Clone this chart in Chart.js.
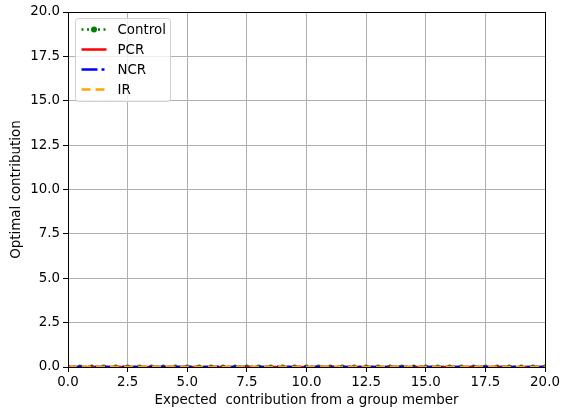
<!DOCTYPE html>
<html>
<head>
<meta charset="utf-8">
<script src="https://cdn.jsdelivr.net/npm/chart.js@4/dist/chart.umd.min.js"></script>
<style>
  html, body { margin: 0; padding: 0; background: #fff; }
  #wrap { width: 562px; height: 414px; position: relative; }
</style>
</head>
<body>
<div id="wrap"><canvas id="c" width="562" height="414"></canvas></div>
<script>
// ---- data ----
const xValues = [0, 0.5, 1, 1.5, 2, 2.5, 3, 3.5, 4, 4.5, 5, 5.5, 6, 6.5, 7, 7.5, 8, 8.5, 9, 9.5, 10,
                 10.5, 11, 11.5, 12, 12.5, 13, 13.5, 14, 14.5, 15, 15.5, 16, 16.5, 17, 17.5, 18, 18.5, 19, 19.5, 20];
const controlValues = [0,0,0,0,0,0,0,0,0,0,0,0,0,0,0,0,0,0,0,0,0,0,0,0,0,0,0,0,0,0,0,0,0,0,0,0,0,0,0,0,0];
const pcrValues     = [0,0,0,0,0,0,0,0,0,0,0,0,0,0,0,0,0,0,0,0,0,0,0,0,0,0,0,0,0,0,0,0,0,0,0,0,0,0,0,0,0];
const ncrValues     = [0,0,0,0,0,0,0,0,0,0,0,0,0,0,0,0,0,0,0,0,0,0,0,0,0,0,0,0,0,0,0,0,0,0,0,0,0,0,0,0,0];
const irValues      = [0,0,0,0,0,0,0,0,0,0,0,0,0,0,0,0,0,0,0,0,0,0,0,0,0,0,0,0,0,0,0,0,0,0,0,0,0,0,0,0,0];
const seriesNames = ['Control', 'PCR', 'NCR', 'IR'];
const xTickValues = [0, 2.5, 5, 7.5, 10, 12.5, 15, 17.5, 20];
const yTickValues = [0, 2.5, 5, 7.5, 10, 12.5, 15, 17.5, 20];
const xTitle = 'Expected  contribution from a group member';
const yTitle = 'Optimal contribution';

const FONT = 'DejaVu Sans';
const FS = 13.4;
const pts = vals => vals.map((v, i) => ({ x: xValues[i], y: v }));

// black frame around the plot area (all four spines)
const spines = {
  id: 'spines',
  afterDatasetsDraw(chart) {
    const ctx = chart.ctx, ca = chart.chartArea;
    ctx.save();
    ctx.strokeStyle = '#000';
    ctx.lineWidth = 1;
    ctx.strokeRect(Math.round(ca.left) + 0.5, Math.round(ca.top) + 0.5,
                   Math.round(ca.right) - Math.round(ca.left), Math.round(ca.bottom) - Math.round(ca.top));
    ctx.restore();
  }
};

// custom legend drawn inside the plot area (upper left)
const insideLegend = {
  id: 'insideLegend',
  afterDraw(chart) {
    const ctx = chart.ctx;
    const ca = chart.chartArea;
    const x0 = ca.left + 7.5, y0 = ca.top + 6.5;
    const w = 95, h = 83, r = 3;
    ctx.save();
    ctx.beginPath();
    ctx.moveTo(x0 + r, y0);
    ctx.lineTo(x0 + w - r, y0); ctx.arcTo(x0 + w, y0, x0 + w, y0 + r, r);
    ctx.lineTo(x0 + w, y0 + h - r); ctx.arcTo(x0 + w, y0 + h, x0 + w - r, y0 + h, r);
    ctx.lineTo(x0 + r, y0 + h); ctx.arcTo(x0, y0 + h, x0, y0 + h - r, r);
    ctx.lineTo(x0, y0 + r); ctx.arcTo(x0, y0, x0 + r, y0, r);
    ctx.closePath();
    ctx.fillStyle = 'rgba(255,255,255,0.8)';
    ctx.fill();
    ctx.strokeStyle = '#d0d0d0';
    ctx.lineWidth = 1;
    ctx.stroke();
    chart.data.datasets.forEach((ds, i) => {
      const cy = y0 + 11 + i * 20;
      const lx1 = x0 + 6, lx2 = x0 + 31;
      ctx.beginPath();
      ctx.setLineDash(ds.borderDash || []);
      ctx.strokeStyle = ds.borderColor;
      ctx.lineWidth = ds.borderWidth;
      ctx.moveTo(lx1, cy); ctx.lineTo(lx2, cy);
      ctx.stroke();
      ctx.setLineDash([]);
      if (ds.pointRadius > 0) {
        ctx.beginPath();
        ctx.fillStyle = ds.borderColor;
        ctx.arc((lx1 + lx2) / 2, cy, 3, 0, Math.PI * 2);
        ctx.fill();
      }
      ctx.fillStyle = '#000';
      ctx.font = FS + 'px "' + FONT + '"';
      ctx.textBaseline = 'middle';
      ctx.textAlign = 'left';
      ctx.fillText(ds.label, x0 + 42, cy + 1);
    });
    ctx.restore();
  }
};

const ds = (label, vals, color, dash, radius, order) => ({
  label, data: pts(vals), borderColor: color, backgroundColor: color,
  borderWidth: 2.5, borderDash: dash, pointRadius: radius, pointHoverRadius: radius,
  pointBorderWidth: 0, tension: 0, fill: false, order
});

new Chart(document.getElementById('c'), {
  type: 'line',
  data: {
    datasets: [
      ds(seriesNames[0], controlValues, 'green', [2, 3.5], 2.5, 3),
      ds(seriesNames[1], pcrValues, 'red', [], 0, 2),
      ds(seriesNames[2], ncrValues, 'blue', [16, 4, 3, 4], 0, 1),
      ds(seriesNames[3], irValues, 'orange', [9, 5], 0, 0)
    ]
  },
  plugins: [spines, insideLegend],
  options: {
    responsive: false,
    animation: false,
    devicePixelRatio: 1,
    layout: { padding: { left: 0, right: 17, top: 12, bottom: 0 } },
    plugins: { legend: { display: false }, tooltip: { enabled: false } },
    scales: {
      x: {
        type: 'linear', min: 0, max: 20,
        afterBuildTicks: s => { s.ticks = xTickValues.map(v => ({ value: v })); },
        afterFit: s => { s.height = 47; },
        ticks: { callback: v => Number(v).toFixed(1), color: '#000', font: { family: FONT, size: FS }, padding: 2, maxRotation: 0 },
        grid: { color: '#b0b0b0', lineWidth: 1, tickLength: 5, tickColor: '#000', drawOnChartArea: true },
        border: { display: true, color: '#000', width: 1 },
        title: { display: true, text: xTitle, color: '#000', font: { family: FONT, size: FS }, padding: { top: 2, bottom: 5 } }
      },
      y: {
        type: 'linear', min: 0, max: 20,
        afterBuildTicks: s => { s.ticks = yTickValues.map(v => ({ value: v })); },
        afterFit: s => { s.width = 68; },
        ticks: { callback: v => Number(v).toFixed(1), color: '#000', font: { family: FONT, size: FS }, padding: 3 },
        grid: { color: '#b0b0b0', lineWidth: 1, tickLength: 5, tickColor: '#000' },
        border: { display: true, color: '#000', width: 1 },
        title: { display: true, text: yTitle, color: '#000', font: { family: FONT, size: FS }, padding: { top: 8, bottom: 0 } }
      }
    }
  },
});
</script>
</body>
</html>
